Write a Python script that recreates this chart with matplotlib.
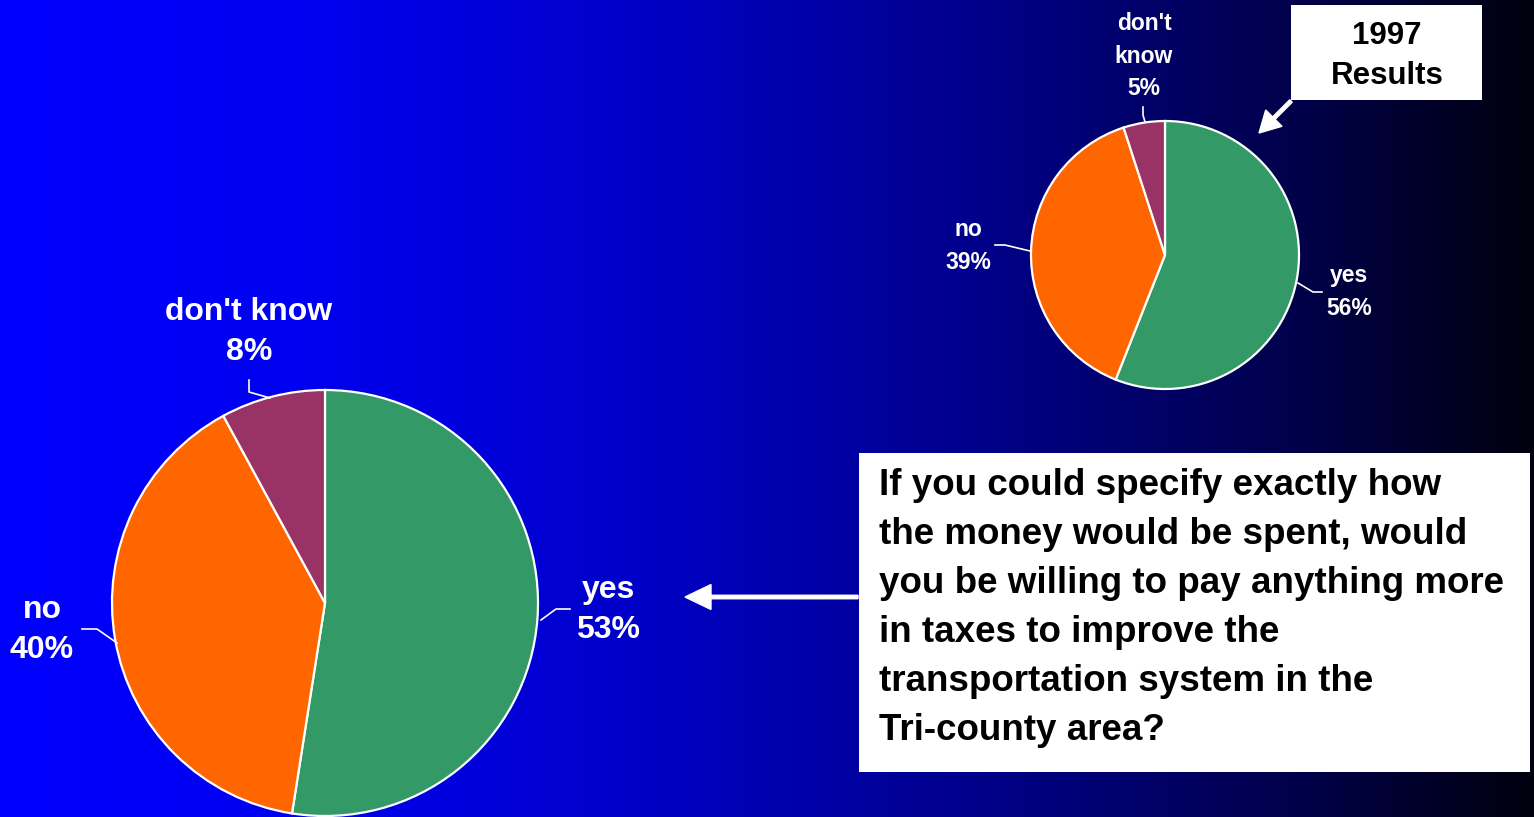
import numpy as np
import matplotlib
matplotlib.use("Agg")
import matplotlib.pyplot as plt
from matplotlib.patches import Rectangle

plt.rcParams['font.family'] = ['Liberation Sans', 'DejaVu Sans']
plt.rcParams['font.weight'] = 'bold'

W, H = 1534, 817

# survey answers
labels = ["yes", "no", "don't know"]
current = [53, 40, 8]
results_1997 = [56, 39, 5]
colors = ["#339966", "#FF6600", "#993366"]

question = ["If you could specify exactly how",
            "the money would be spent, would",
            "you be willing to pay anything more",
            "in taxes to improve the",
            "transportation system in the",
            "Tri-county area?"]


def py(y):
    # image rows run downwards, the axes run upwards
    return H - y


fig = plt.figure(figsize=(W / 100, H / 100), dpi=100)
ax = fig.add_axes([0, 0, 1, 1])

# blue to black background
xs = np.linspace(0, W, 400)
blue = np.interp(xs, [0, 300, 600, 850, 1100, 1300, 1534],
                 [255, 240, 205, 162, 114, 74, 14]) / 255.0
grad = np.zeros((2, len(xs), 3))
grad[:, :, 2] = blue
ax.imshow(grad, extent=[0, W, 0, H], aspect='auto', zorder=0)

wp = dict(edgecolor='white', linewidth=1.6)
ax.pie(current, colors=colors, startangle=90, counterclock=False,
       center=(325, py(603)), radius=213, wedgeprops=wp, frame=True)
ax.pie(results_1997, colors=colors, startangle=90, counterclock=False,
       center=(1165, py(255)), radius=134, wedgeprops=wp, frame=True)

txt = dict(color='white', ha='center', va='center', fontweight='bold')

# labels for the big pie
ax.text(608, py(610), f"{labels[0]}\n{current[0]}%", fontsize=23, linespacing=1.45, **txt)
ax.text(42, py(630), f"{labels[1]}\n{current[1]}%", fontsize=23, linespacing=1.45, **txt)
ax.text(249, py(332), f"{labels[2]}\n{current[2]}%", fontsize=23, linespacing=1.45, **txt)
ax.plot([541, 556, 570], [py(620), py(609), py(609)], color='white', lw=1.2)
ax.plot([117, 97, 82], [py(643), py(629), py(629)], color='white', lw=1.2)
ax.plot([270, 249, 249], [py(398), py(392), py(380)], color='white', lw=1.2)

# labels for the 1997 pie
ax.text(1349, py(292), f"{labels[0]}\n{results_1997[0]}%", fontsize=16.5, linespacing=1.55, **txt)
ax.text(968, py(246), f"{labels[1]}\n{results_1997[1]}%", fontsize=16.5, linespacing=1.55, **txt)
ax.text(1144, py(56), "don't\nknow\n" + f"{results_1997[2]}%", fontsize=16.5, linespacing=1.55, **txt)
ax.plot([1298, 1313, 1322], [py(283), py(292), py(292)], color='white', lw=1.2)
ax.plot([1030, 1005, 995], [py(251), py(245), py(245)], color='white', lw=1.2)
ax.plot([1145, 1143, 1143], [py(122), py(115), py(107)], color='white', lw=1.2)

# "1997 Results" tag with its arrow
ax.add_patch(Rectangle((1291, py(100)), 191, 95, facecolor='white', edgecolor='none', zorder=3))
ax.text(1387, py(56), "1997\nResults", fontsize=22.5, color='black', ha='center', va='center',
        linespacing=1.45, zorder=4)
ax.arrow(1291, py(101), -32, -32, width=3.5, head_width=23, head_length=21,
         length_includes_head=True, color='white', zorder=4)

# question box with arrow pointing at the big pie
ax.add_patch(Rectangle((859, py(772)), 671, 319, facecolor='white', edgecolor='none', zorder=3))
for i, line in enumerate(question):
    ax.text(879, py(485 + 49.2 * i), line, fontsize=26.5, color='black', ha='left',
            va='center', zorder=4)
ax.arrow(858, py(597), -173, 0, width=3.5, head_width=25, head_length=26,
         length_includes_head=True, color='white', zorder=4)

ax.set_xlim(0, W)
ax.set_ylim(0, H)
ax.set_aspect('auto')
ax.axis('off')

fig.savefig("out.png", dpi=100)
